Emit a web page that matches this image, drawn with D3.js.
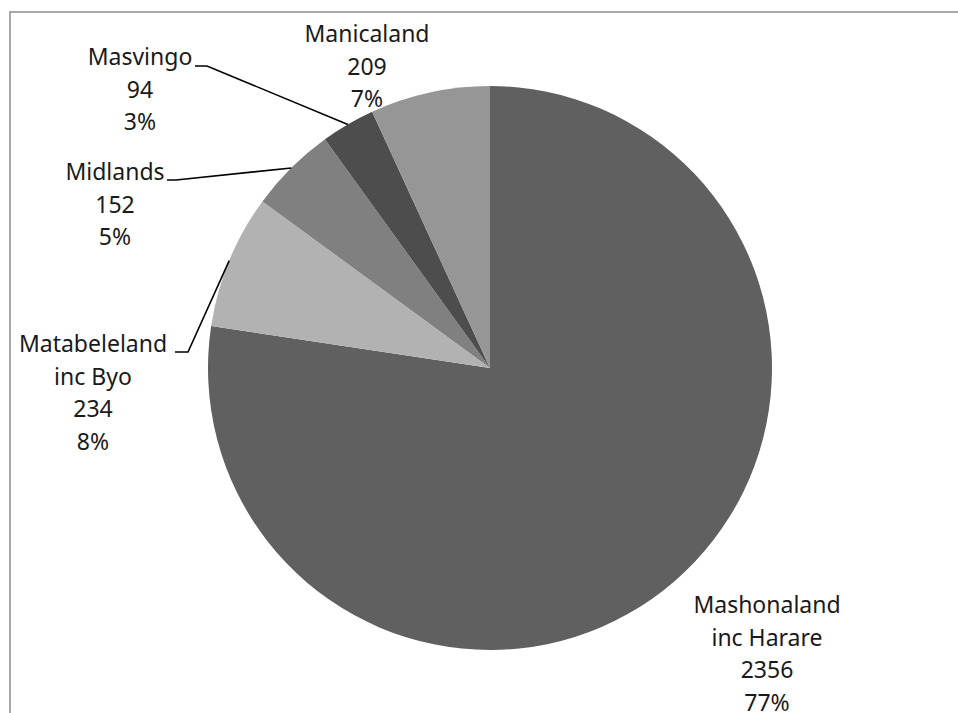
<!DOCTYPE html>
<html>
<head>
    <meta charset="utf-8">
    <script src="https://d3js.org/d3.v7.min.js"></script>
    <style>
      body { margin: 0; background: #fff; }
      text { font-family: "Noto Sans", sans-serif; font-size: 23px; fill: #1a1a1a; }
    </style>
</head>
<body>
    <svg id="chart" width="958" height="713"></svg>
    <script>
    // data
    const regions = ["Mashonaland\ninc Harare", "Matabeleland\ninc Byo", "Midlands", "Masvingo", "Manicaland"];
    const counts = [2356, 234, 152, 94, 209];
    const shades = ["#606060", "#b2b2b2", "#808080", "#4d4d4d", "#969696"];

    // label layout: centre x, first baseline, and leader elbow (null = no leader)
    const labelX = [767, 93, 115, 140, 367];
    const labelY = [613, 352, 180, 65, 42];
    const elbows = [null, [[175, 352], [188, 352]], [[167, 180], [176, 180]], [[195, 66], [207, 66]], null];
    const lineGap = 32.6;

    const svg = d3.select("svg#chart");
    const cx = 490, cy = 368, r = 282;

    // frame
    svg.append("path")
       .attr("d", "M10,713 L10,12 L958,12")
       .attr("fill", "none")
       .attr("stroke", "#8c8c8c")
       .attr("stroke-width", 1.5);

    const total = d3.sum(counts);
    const pie = d3.pie().sort(null).value(d => d)(counts);
    const arc = d3.arc().innerRadius(0).outerRadius(r);
    const edge = d3.arc().innerRadius(r).outerRadius(r);

    const g = svg.append("g").attr("transform", `translate(${cx},${cy})`);
    g.selectAll("path.slice")
     .data(pie)
     .join("path")
     .attr("class", "slice")
     .attr("d", arc)
     .attr("fill", (d, i) => shades[i]);

    // leader lines
    pie.forEach((d, i) => {
        if (!elbows[i]) return;
        const c = edge.centroid(d);
        const pts = elbows[i].concat([[c[0] + cx, c[1] + cy]]);
        svg.append("path")
           .attr("d", d3.line()(pts))
           .attr("fill", "none")
           .attr("stroke", "#000")
           .attr("stroke-width", 1.6);
    });

    // labels
    regions.forEach((name, i) => {
        const lines = name.split("\n").concat([String(counts[i]), Math.round(counts[i] / total * 100) + "%"]);
        const t = svg.append("text")
                     .attr("text-anchor", "middle");
        lines.forEach((s, k) => {
            t.append("tspan")
             .attr("x", labelX[i])
             .attr("y", labelY[i] + k * lineGap)
             .text(s);
        });
    });
    </script>
</body>
</html>
